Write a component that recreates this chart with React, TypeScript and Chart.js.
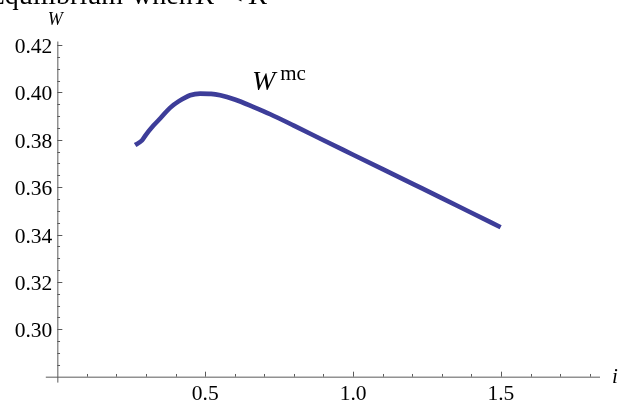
import React, { useEffect, useRef } from "react";
import { Chart, registerables } from "chart.js";

Chart.register(...registerables);

const iValues = [0.263, 0.286, 0.3, 0.325, 0.35, 0.381, 0.41, 0.449, 0.483, 0.52, 0.551, 0.6, 0.664, 0.72, 0.8, 0.9, 1.0, 1.1, 1.2, 1.3, 1.4, 1.499];
const wValues = [0.3778, 0.3797, 0.3822, 0.386, 0.3893, 0.3935, 0.3962, 0.3988, 0.3995, 0.3994, 0.3988, 0.397, 0.3938, 0.3908, 0.386, 0.3798, 0.3737, 0.3676, 0.3615, 0.3554, 0.3492, 0.3431];

const xMajorTicks = [0.5, 1.0, 1.5];
const xTickLabels = ["0.5", "1.0", "1.5"];
const yMajorTicks = [0.3, 0.32, 0.34, 0.36, 0.38, 0.4, 0.42];
const yTickLabels = ["0.30", "0.32", "0.34", "0.36", "0.38", "0.40", "0.42"];
const xMinorTicks = [0.1, 0.2, 0.3, 0.4, 0.6, 0.7, 0.8, 0.9, 1.1, 1.2, 1.3, 1.4, 1.6, 1.7, 1.8];
const yMinorTicks = [0.285, 0.29, 0.295, 0.305, 0.31, 0.315, 0.325, 0.33, 0.335, 0.345, 0.35, 0.355, 0.365, 0.37, 0.375, 0.385, 0.39, 0.395, 0.405, 0.41, 0.415];

const AXIS_COLOR = "#5a5a5a";
const SERIF = "'Liberation Serif', 'DejaVu Serif', serif";

const axesPlugin = {
  id: "mmaAxes",
  beforeDatasetsDraw(chart: any) {
    const ctx = chart.ctx as CanvasRenderingContext2D;
    const xs = chart.scales.x;
    const ys = chart.scales.y;
    const area = chart.chartArea;
    const x0 = xs.getPixelForValue(0);
    const y0 = ys.getPixelForValue(0.28);
    ctx.save();
    ctx.strokeStyle = AXIS_COLOR;
    ctx.lineWidth = 1;
    ctx.beginPath();
    ctx.moveTo(area.left, y0 + 0.5);
    ctx.lineTo(area.right, y0 + 0.5);
    ctx.moveTo(x0 + 0.5, area.top);
    ctx.lineTo(x0 + 0.5, area.bottom);
    for (const v of xMajorTicks) {
      const p = Math.round(xs.getPixelForValue(v)) + 0.5;
      ctx.moveTo(p, y0);
      ctx.lineTo(p, y0 - 5);
    }
    for (const v of xMinorTicks) {
      const p = Math.round(xs.getPixelForValue(v)) + 0.5;
      ctx.moveTo(p, y0);
      ctx.lineTo(p, y0 - 2.7);
    }
    for (const v of yMajorTicks) {
      const p = Math.round(ys.getPixelForValue(v)) + 0.5;
      ctx.moveTo(x0, p);
      ctx.lineTo(x0 + 5, p);
    }
    for (const v of yMinorTicks) {
      const p = Math.round(ys.getPixelForValue(v)) + 0.5;
      ctx.moveTo(x0, p);
      ctx.lineTo(x0 + 2.7, p);
    }
    ctx.stroke();

    ctx.fillStyle = "#000";
    ctx.font = `21.5px ${SERIF}`;
    ctx.textAlign = "right";
    ctx.textBaseline = "alphabetic";
    yMajorTicks.forEach((v, k) => {
      ctx.fillText(yTickLabels[k], x0 - 5, ys.getPixelForValue(v) + 8);
    });
    ctx.textAlign = "center";
    xMajorTicks.forEach((v, k) => {
      ctx.fillText(xTickLabels[k], xs.getPixelForValue(v), y0 + 23);
    });

    ctx.font = `italic 21px ${SERIF}`;
    ctx.textAlign = "center";
    ctx.fillText("i", area.right + 15, y0 + 6);

    ctx.font = `italic 18px ${SERIF}`;
    ctx.fillText("W", x0 - 2, 25);

    // annotation
    ctx.textAlign = "left";
    ctx.font = `italic 28px ${SERIF}`;
    const ax = xs.getPixelForValue(0.658);
    const ay = ys.getPixelForValue(0.401);
    ctx.fillText("W", ax, ay);
    const ww = ctx.measureText("W").width;
    ctx.font = `21px ${SERIF}`;
    ctx.fillText("mc", ax + ww + 5, ay - 10);

    // clipped caption at top of the cropped figure
    ctx.font = `28px ${SERIF}`;
    ctx.textAlign = "right";
    ctx.fillText("Equilibrium", 123, 4);
    ctx.textAlign = "left";
    ctx.fillText("when", 132, 4);
    ctx.fillText("<", 227, 4);
    ctx.font = `italic 28px ${SERIF}`;
    ctx.fillText("K", 196, 4);
    ctx.fillText("K", 249, 4);
    ctx.restore();
  },
};

export default function App() {
  const ref = useRef<HTMLCanvasElement | null>(null);
  useEffect(() => {
    document.body.style.margin = "0";
    const canvas = ref.current!;
    const chart = new Chart(canvas, {
      type: "line",
      data: {
        datasets: [
          {
            data: iValues.map((x, k) => ({ x, y: wValues[k] })),
            borderColor: "#3d3d99",
            borderWidth: 4.6,
            pointRadius: 0,
            cubicInterpolationMode: "monotone",
            fill: false,
          },
        ],
      },
      options: {
        responsive: false,
        animation: false,
        devicePixelRatio: 1,
        layout: { padding: { left: 45.8, right: 32, top: 41.5, bottom: 22.4 } },
        plugins: { legend: { display: false }, tooltip: { enabled: false }, title: { display: false } },
        scales: {
          x: { type: "linear", min: -0.039, max: 1.835, display: false },
          y: { type: "linear", min: 0.2775, max: 0.4215, display: false },
        },
      },
      plugins: [axesPlugin],
    });
    return () => chart.destroy();
  }, []);
  return (
    <div style={{ position: "fixed", left: 0, top: 0, width: 632, height: 405, background: "#fff" }}>
      <canvas ref={ref} width={632} height={405} style={{ width: 632, height: 405 }} />
    </div>
  );
}
